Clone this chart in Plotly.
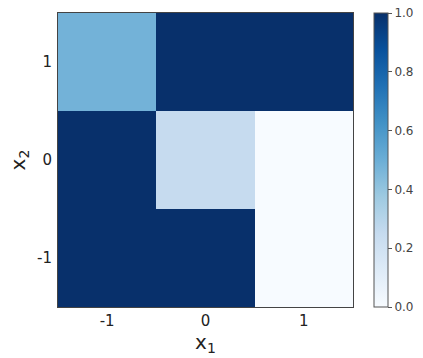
import plotly.graph_objects as go

x_vals = [-1, 0, 1]
y_vals = [-1, 0, 1]
# rows are y = -1, 0, 1 ; columns x = -1, 0, 1
z_vals = [
    [1.0, 1.0, 0.0],
    [1.0, 0.25, 0.0],
    [0.48, 1.0, 1.0],
]
tick_labels = ["-1", "0", "1"]
cbar_ticks = [0.0, 0.2, 0.4, 0.6, 0.8, 1.0]

blues = ["#f7fbff", "#deebf7", "#c6dbef", "#9ecae1", "#6baed6",
         "#4292c6", "#2171b5", "#08519c", "#08306b"]
cs = [[i / (len(blues) - 1), c] for i, c in enumerate(blues)]

fig = go.Figure(go.Heatmap(
    x=x_vals, y=y_vals, z=z_vals, colorscale=cs, zmin=0, zmax=1,
    colorbar=dict(
        x=1.071, xanchor="left", xpad=0, ypad=0, y=0.5, yanchor="middle",
        len=1.0, lenmode="fraction", thickness=14, outlinewidth=1,
        outlinecolor="#555", tickvals=cbar_ticks,
        ticktext=[f"{v:.1f}" for v in cbar_ticks], ticks="outside",
        ticklen=4, tickcolor="#555",
        tickfont=dict(family="DejaVu Sans", size=12, color="#444"),
    ),
))

fig.update_layout(
    width=423, height=358,
    margin=dict(l=58, r=70, t=13, b=51, autoexpand=False),
    paper_bgcolor="white", plot_bgcolor="white",
    font=dict(family="DejaVu Sans", color="#222"),
)
fig.update_xaxes(
    tickvals=x_vals, ticktext=tick_labels, range=[-1.5, 1.5],
    showline=True, mirror=True, linecolor="#444", linewidth=1,
    showgrid=False, zeroline=False, ticks="", ticklen=0, ticklabelstandoff=0,
    automargin=False,
    tickfont=dict(size=15, color="#222"),
    title=dict(text="x<sub>1</sub>", font=dict(size=20, color="#222"), standoff=0),
)
fig.update_yaxes(
    tickvals=y_vals, ticktext=tick_labels, range=[-1.5, 1.5],
    showline=True, mirror=True, linecolor="#444", linewidth=1,
    showgrid=False, zeroline=False, ticks="", ticklen=0, ticklabelstandoff=2,
    automargin=False,
    tickfont=dict(size=15, color="#222"),
    title=dict(text="x<sub>2</sub>", font=dict(size=20, color="#222"), standoff=6),
)

fig.write_html("out.html", config={"displayModeBar": False},
               post_script="document.body.style.margin='0';")
